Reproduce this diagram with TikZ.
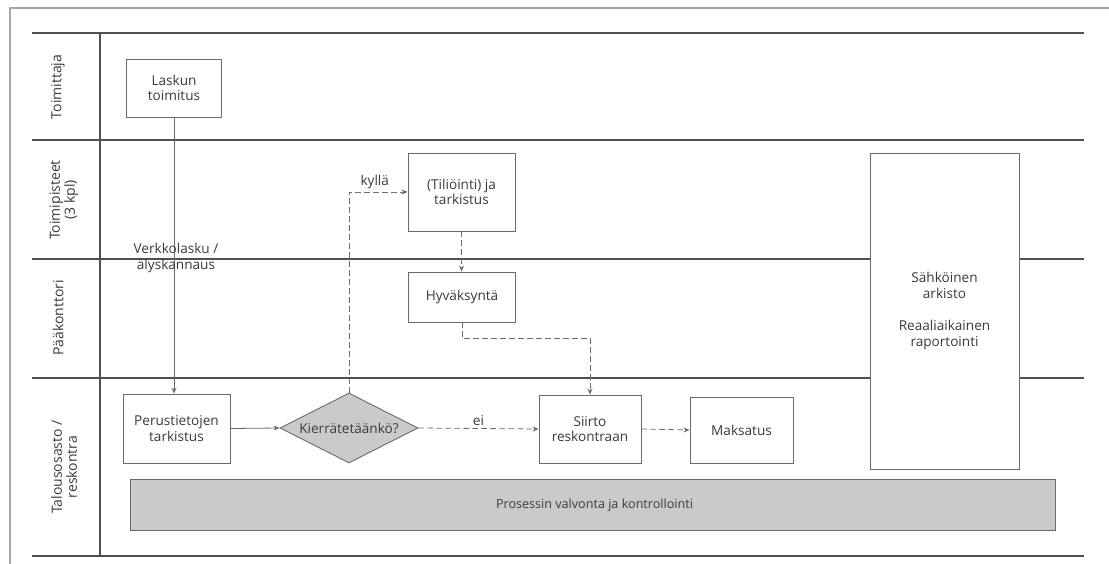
\documentclass[tikz,border=0pt]{standalone}
\usepackage{fontspec}
\setmainfont{Open Sans}
\usetikzlibrary{shapes.geometric,arrows.meta}
\definecolor{txt}{HTML}{3A3A3A}
\definecolor{lane}{HTML}{505050}
\definecolor{boxc}{HTML}{6A6A6A}
\definecolor{hatch}{HTML}{CACACA}
\tikzset{
  every node/.style={font=\fontsize{13.6}{15.5}\selectfont, text=txt},
  procbox/.style={draw=boxc, line width=0.9pt, fill=white, align=center, inner sep=0pt},
  lanesep/.style={draw=lane, line width=1.4pt},
  framel/.style={draw=gray!70, line width=1.3pt},
  lanelbl/.style={rotate=90, align=center, font=\fontsize{14}{15}\selectfont},
  flow/.style={draw=boxc, line width=0.8pt, -{Stealth[length=6pt,width=5pt]}},
  dflow/.style={flow, dash pattern=on 5.5pt off 3.5pt},
}
\begin{document}
\begin{tikzpicture}[x=1pt,y=-1pt]
\useasboundingbox (0,0) rectangle (1109,564);
% frame
\draw[framel] (10,564) -- (10,8) -- (1109,8);
% lanes
\foreach \yy in {33,140,259,378,556} \draw[lanesep] (32,\yy) -- (1084,\yy);
\draw[lanesep] (100,33) -- (100,556);
% lane labels
\node[lanelbl] (l1) at (58,87) {Toimittaja};
\node[lanelbl] (l2) at (64,200) {Toimipisteet\\(3 kpl)};
\node[lanelbl] (l3) at (58,318) {Pääkonttori};
\node[lanelbl] (l4) at (64,467) {Talousosasto /\\reskontra};
% process bar
\node[draw=boxc, line width=0.9pt, fill=hatch, minimum width=925pt, minimum height=51pt, inner sep=0pt] (bar) at (592.5,504.5) {};
\node[font=\fontsize{12.6}{15}\selectfont] (bartxt) at (594.5,505) {Prosessin valvonta ja kontrollointi};
% archive box
\node[procbox, minimum width=149pt, minimum height=316pt] (arch) at (944.5,311) {Sähköinen\\arkisto\\[17pt]Reaaliaikainen\\raportointi};
% process boxes
\node[procbox, minimum width=95pt, minimum height=58pt] (lask) at (174,88) {Laskun\\toimitus};
\node[procbox, minimum width=107pt, minimum height=69pt] (perus) at (176.5,428.5) {Perustietojen\\tarkistus};
\node[diamond, draw=boxc, line width=0.9pt, fill=hatch, minimum width=138pt, minimum height=70pt, inner sep=0pt, aspect=2] (kier) at (349,428) {Kierrätetäänkö?};
\node[procbox, minimum width=107pt, minimum height=78pt] (tili) at (461.5,192) {(Tiliöinti) ja\\tarkistus};
\node[procbox, minimum width=107pt, minimum height=50pt] (hyv) at (462,297) {Hyväksyntä};
\node[procbox, minimum width=102pt, minimum height=68pt] (siirto) at (590,429) {Siirto\\reskontraan};
\node[procbox, minimum width=103pt, minimum height=66pt] (maks) at (741.5,430) {Maksatus};
% connectors
\draw[flow] (lask.south) -- (lask.south |- perus.north);
\node[align=center] (verk) at (176,258) {Verkkolasku /\\älyskannaus};
\draw[flow] (perus.east) -- (kier.west);
\draw[dflow] (kier.north) |- (tili.west) node[pos=0.72, above, yshift=-1pt] (kyl) {kyllä};
\draw[dflow] (tili.south) -- (tili.south |- hyv.north);
\draw[dflow] (hyv.south) -- ++(0,16) -| (siirto.north);
\draw[dflow] (kier.east) -- (siirto.west) node[midway, above, yshift=-1pt] (ei) {ei};
\draw[dflow] (siirto.east) -- (maks.west);
\end{tikzpicture}
\end{document}
